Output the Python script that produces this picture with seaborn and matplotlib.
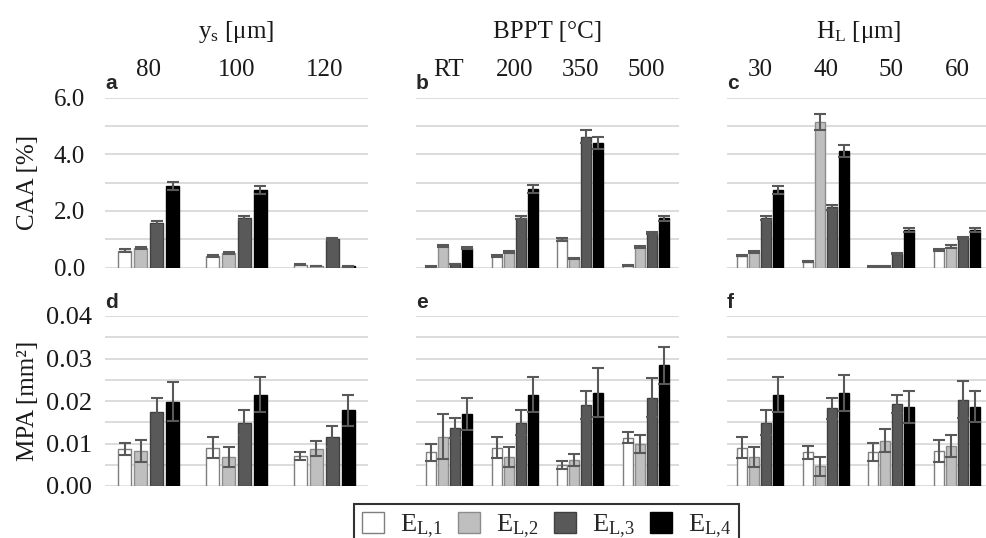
import numpy as np
import pandas as pd
import matplotlib
matplotlib.use("Agg")
import matplotlib.pyplot as plt
import seaborn as sns
from matplotlib.patches import Patch
from matplotlib.container import BarContainer

# ---------------- data ----------------
series = ["E1", "E2", "E3", "E4"]
legend_labels = [r"$E_{L{,}1}$", r"$E_{L{,}2}$", r"$E_{L{,}3}$", r"$E_{L{,}4}$"]

ys_cats = ["80", "100", "120"]
bppt_cats = ["RT", "200", "350", "500"]
hl_cats = ["30", "40", "50", "60"]
headers = [r"$y_s$ [μm]", "BPPT [°C]", r"$H_L$ [μm]"]
letters_top = ["a", "b", "c"]
letters_bot = ["d", "e", "f"]

caa_tick_vals = [0, 2, 4, 6]
caa_tick_labels = ["0.0", "2.0", "4.0", "6.0"]
mpa_tick_vals = [0, 0.01, 0.02, 0.03, 0.04]
mpa_tick_labels = ["0.00", "0.01", "0.02", "0.03", "0.04"]

# CAA [%]  (rows: E_L,1 .. E_L,4)
caa_ys = [[0.60, 0.40, 0.10], [0.70, 0.52, 0.05], [1.57, 1.75, 1.01], [2.87, 2.74, 0.04]]
caa_ys_err = [[0.04, 0.03, 0.02], [0.04, 0.03, 0.01], [0.06, 0.06, 0.04], [0.14, 0.13, 0.01]]
caa_bppt = [[0.03, 0.41, 1.00, 0.08], [0.76, 0.54, 0.32, 0.73], [0.12, 1.76, 4.62, 1.22], [0.68, 2.76, 4.39, 1.73]]
caa_bppt_err = [[0.01, 0.03, 0.05, 0.02], [0.04, 0.03, 0.02, 0.04], [0.01, 0.06, 0.24, 0.03], [0.03, 0.14, 0.21, 0.10]]
caa_hl = [[0.41, 0.20, 0.03, 0.61], [0.54, 5.14, 0.03, 0.74], [1.75, 2.12, 0.48, 1.05], [2.75, 4.10, 1.34, 1.34]]
caa_hl_err = [[0.02, 0.02, 0.01, 0.03], [0.03, 0.27, 0.01, 0.04], [0.06, 0.10, 0.02, 0.03], [0.14, 0.21, 0.07, 0.07]]

# MPA [mm²]
mpa_ys = [[0.0087, 0.0090, 0.0071], [0.0082, 0.0068, 0.0088], [0.0175, 0.0149, 0.0116], [0.0198, 0.0215, 0.0178]]
mpa_ys_err = [[0.0015, 0.0025, 0.0009], [0.0026, 0.0024, 0.0018], [0.0033, 0.0029, 0.0025], [0.0046, 0.0041, 0.0036]]
mpa_bppt = [[0.0079, 0.0090, 0.0050, 0.0114], [0.0116, 0.0068, 0.0062, 0.0098], [0.0137, 0.0149, 0.0191, 0.0208], [0.0169, 0.0215, 0.0220, 0.0284]]
mpa_bppt_err = [[0.0020, 0.0025, 0.0010, 0.0013], [0.0053, 0.0024, 0.0014, 0.0021], [0.0024, 0.0029, 0.0033, 0.0046], [0.0038, 0.0041, 0.0058, 0.0044]]
mpa_hl = [[0.0090, 0.0079, 0.0080, 0.0082], [0.0068, 0.0046, 0.0107, 0.0094], [0.0149, 0.0183, 0.0193, 0.0203], [0.0215, 0.0219, 0.0186, 0.0187]]
mpa_hl_err = [[0.0025, 0.0015, 0.0021, 0.0026], [0.0024, 0.0023, 0.0027, 0.0025], [0.0029, 0.0025, 0.0022, 0.0044], [0.0041, 0.0043, 0.0037, 0.0037]]

# ---------------- style ----------------
colors = ["#ffffff", "#bfbfbf", "#595959", "#000000"]
edge_colors = ["#7f7f7f", "#8c8c8c", "#404040", "#000000"]
err_color = "#595959"
grid_color = "#d9d9d9"

sns.set_theme(style="white")
plt.rcParams["font.family"] = ["Liberation Serif", "DejaVu Serif"]
plt.rcParams["mathtext.default"] = "regular"
FS = 18

fig = plt.figure(figsize=(9.87, 5.38), dpi=100)

lefts = [105 / 987, 416 / 987, 727 / 987]
width = 263 / 987
top_bottom = 1 - 267.5 / 538
bot_bottom = 1 - 486 / 538
height = 170 / 538

top_data = [(ys_cats, caa_ys, caa_ys_err), (bppt_cats, caa_bppt, caa_bppt_err), (hl_cats, caa_hl, caa_hl_err)]
bot_data = [(ys_cats, mpa_ys, mpa_ys_err), (bppt_cats, mpa_bppt, mpa_bppt_err), (hl_cats, mpa_hl, mpa_hl_err)]


def draw_panel(ax, cats, vals, errs, ylim, major, minor, tick_labels, show_y, show_x, letter,
               ysize, ypad):
    rows = []
    for s, v in zip(series, vals):
        for c, val in zip(cats, v):
            rows.append({"cat": c, "series": s, "val": val})
    df = pd.DataFrame(rows)
    sns.barplot(data=df, x="cat", y="val", hue="series", order=cats, hue_order=series,
                palette=colors, width=0.73, gap=0.18, errorbar=None, legend=False,
                saturation=1, ax=ax, zorder=2)
    bar_conts = [c for c in ax.containers if isinstance(c, BarContainer)]
    for i, cont in enumerate(bar_conts):
        xs, ys, es = [], [], []
        for bar in cont.patches:
            bar.set_edgecolor(edge_colors[i])
            bar.set_linewidth(1.0)
            xc = bar.get_x() + bar.get_width() / 2
            j = int(round(xc))
            xs.append(xc)
            ys.append(bar.get_height())
            es.append(errs[i][j])
        ax.errorbar(xs, ys, yerr=es, fmt="none", ecolor=err_color, elinewidth=1.5,
                    capsize=4, capthick=1.5, zorder=3)
    ax.set_ylim(*ylim)
    ax.set_xlim(-0.5, len(cats) - 0.5)
    ax.set_yticks(major)
    ax.set_yticks(minor, minor=True)
    if show_y:
        ax.set_yticklabels(tick_labels)
    else:
        ax.set_yticklabels([])
    ax.yaxis.grid(True, which="both", color=grid_color, lw=1.3, zorder=0)
    ax.xaxis.grid(False)
    ax.set_axisbelow(True)
    for sp in ax.spines.values():
        sp.set_visible(False)
    ax.set_xlabel("")
    ax.set_ylabel("")
    ax.tick_params(axis="y", which="both", length=0, pad=ypad, labelsize=ysize, colors="#1a1a1a")
    if show_x:
        ax.xaxis.set_ticks_position("top")
        ax.tick_params(axis="x", which="both", length=0, pad=12, labelsize=FS,
                       top=True, bottom=False, labeltop=True, labelbottom=False, colors="#1a1a1a")
    else:
        ax.tick_params(axis="x", which="both", length=0, top=False, bottom=False,
                       labeltop=False, labelbottom=False)
    ax.text(0.0, 1.05, letter, transform=ax.transAxes, ha="left", va="baseline",
            fontsize=15, fontweight="bold", family=["Liberation Sans", "DejaVu Sans"])
    ax.set_facecolor("none")


for k in range(3):
    ax = fig.add_axes([lefts[k], top_bottom, width, height])
    cats, vals, errs = top_data[k]
    draw_panel(ax, cats, vals, errs, (0, 6), caa_tick_vals, [1, 3, 5], caa_tick_labels,
               k == 0, True, letters_top[k], FS, 14.5)
    ax.text(0.5, 1.385, headers[k], transform=ax.transAxes, ha="center", va="center",
            fontsize=FS, color="#1a1a1a")

for k in range(3):
    ax = fig.add_axes([lefts[k], bot_bottom, width, height])
    cats, vals, errs = bot_data[k]
    draw_panel(ax, cats, vals, errs, (0, 0.04), mpa_tick_vals, [0.005, 0.015, 0.025, 0.035],
               mpa_tick_labels, k == 0, False, letters_bot[k], 19, 9)

fig.text(28 / 987, 1 - 182.5 / 538, "CAA [%]", rotation=90, ha="center", va="center",
         fontsize=FS, color="#1a1a1a")
fig.text(28 / 987, 1 - 401 / 538, "MPA [mm²]", rotation=90, ha="center", va="center",
         fontsize=FS, color="#1a1a1a")

handles = [Patch(facecolor=c, edgecolor=e, linewidth=1.0) for c, e in zip(colors, edge_colors)]
leg = fig.legend(handles, legend_labels, loc="upper center", bbox_to_anchor=(546.5 / 987, 1 - 504 / 538),
                 ncol=4, frameon=True, fancybox=False, fontsize=19, handlelength=0.83, handleheight=0.83,
                 handletextpad=0.6, columnspacing=0.6, borderpad=0.3, borderaxespad=0.0,
                 edgecolor="black")
leg.get_frame().set_linewidth(1.5)

fig.savefig("out.png", dpi=100)
